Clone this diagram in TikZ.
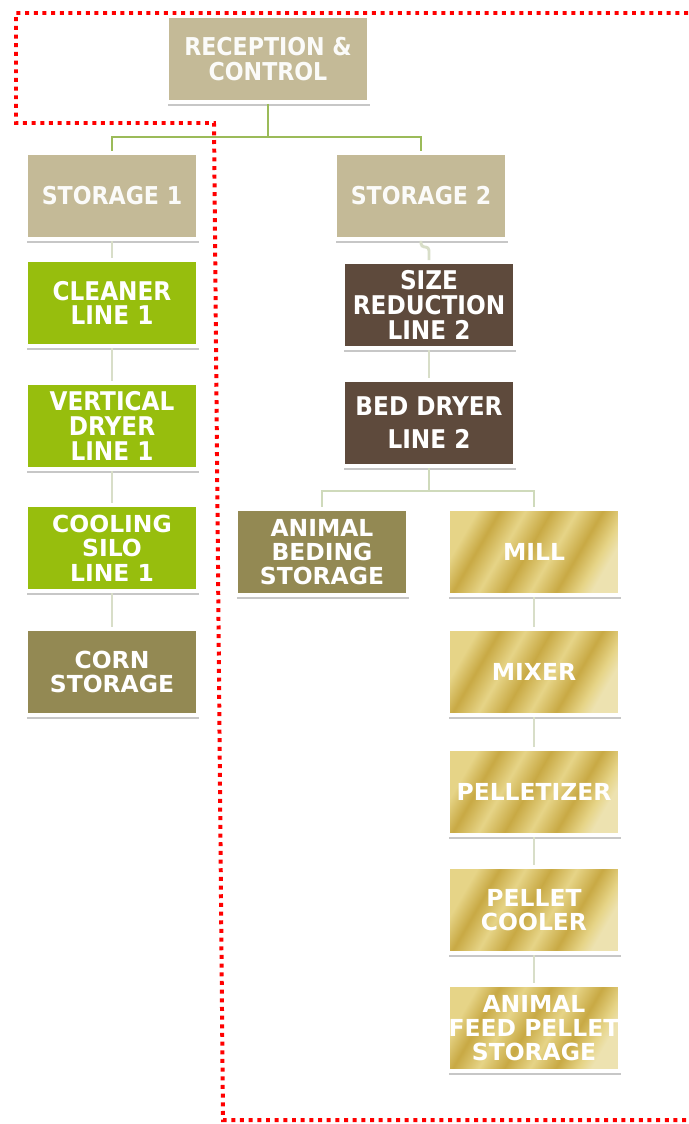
\documentclass[tikz,border=0pt]{standalone}
\usepackage{fontspec}
\setmainfont{DejaVu Sans}
\newfontfamily\condfont{DejaVu Sans Condensed}
\usetikzlibrary{shadows}

\definecolor{tanbox}{HTML}{C4BA97}
\definecolor{leafgreen}{HTML}{97BE0D}
\definecolor{barkbrown}{HTML}{5E4A3C}
\definecolor{olivebox}{HTML}{938953}
\definecolor{trunkgreen}{HTML}{9BBB59}
\definecolor{linkpale}{HTML}{D8DEC8}
\definecolor{branchpale}{HTML}{CFDABB}
\definecolor{fencered}{HTML}{FF0000}
\definecolor{goldL}{HTML}{E6D487}
\definecolor{goldD}{HTML}{C8A944}
\definecolor{goldW}{HTML}{EDE2B0}

\pgfdeclarehorizontalshading{goldsheen}{100bp}{color(0bp)=(goldL); color(25bp)=(goldL);
  color(32bp)=(goldD); color(40bp)=(goldL); color(48bp)=(goldD); color(56bp)=(goldL);
  color(64bp)=(goldD); color(71bp)=(goldL); color(75bp)=(goldW); color(100bp)=(goldW)}

\begin{document}
\begin{tikzpicture}[x=0.03cm, y=-0.03cm,
  stage/.style={draw=white, line width=3.4pt, minimum width=5.16cm, minimum height=2.58cm,
    inner sep=0pt, align=center, text=white,
    drop shadow={shadow xshift=0.5pt, shadow yshift=-3.5pt, opacity=0.22, fill=black}},
  condtext/.style={font=\condfont\bfseries\fontsize{22}{21}\selectfont},
  widetext/.style={font=\bfseries\fontsize{20}{20.8}\selectfont},
  tanstage/.style={stage, fill=tanbox, font=\condfont\bfseries\fontsize{21}{21}\selectfont, text=white!94!tanbox},
  greenstage/.style={stage, fill=leafgreen},
  brownstage/.style={stage, fill=barkbrown, condtext},
  olivestage/.style={stage, fill=olivebox, widetext},
  goldstage/.style={stage, shading=goldsheen, shading angle=-30, widetext},
  trunk/.style={draw=trunkgreen, line width=1.5pt},
  link/.style={draw=linkpale, line width=2.5pt},
  branch/.style={draw=branchpale, line width=1.5pt},
  fence/.style={draw=fencered, line width=3.4pt, dash pattern=on 3.4pt off 4pt}]
\useasboundingbox (0,0) rectangle (688,1124);

% receiving side
\node[tanstage, minimum width=6.06cm] (rec) at (268,59) {RECEPTION \&\\CONTROL};
\node[tanstage] (st1) at (112,196) {STORAGE 1};
\node[tanstage] (st2) at (421,196) {STORAGE 2};

% line 1 (corn)
\node[greenstage, condtext] (cln) at (112,303) {CLEANER\\LINE 1};
\node[greenstage, condtext] (vdr) at (112,426) {VERTICAL\\DRYER\\LINE 1};
\node[greenstage, widetext] (silo) at (112,548) {COOLING\\SILO\\LINE 1};
\node[olivestage] (corn) at (112,672) {CORN\\STORAGE};

% line 2
\node[brownstage] (szr) at (429,305) {SIZE\\REDUCTION\\LINE 2};
\node[brownstage] (bed) at (429,423) {BED DRYER\\[7pt]LINE 2};
\node[olivestage] (beding) at (322,552) {ANIMAL\\BEDING\\STORAGE};
\node[goldstage] (mill) at (534,552) {MILL};
\node[goldstage] (mix) at (534,672) {MIXER};
\node[goldstage] (pel) at (534,792) {PELLETIZER};
\node[goldstage] (cool) at (534,910) {PELLET\\COOLER};
\node[goldstage] (feed) at (534,1028) {ANIMAL\\FEED PELLET\\STORAGE};

% connectors
\draw[trunk] (rec.south) -- ++(0,33) -| (st1.north);
\draw[trunk] (rec.south) ++(0,33) -| (st2.north);
\foreach \a/\b in {st1/cln, cln/vdr, vdr/silo, silo/corn, szr/bed, mill/mix, mix/pel, pel/cool, cool/feed}
  \draw[link] (\a) -- (\b);
\draw[link, rounded corners=3pt] (st2.south) -- ++(0,6) -| (szr.north);
\draw[branch] (bed.south) -- ++(0,23) -| (beding.north);
\draw[branch] (bed.south) ++(0,23) -| (mill.north);

% dotted boundary
\draw[fence] (688,13) -- (16,13) -- (16,123) -- (214,123) -- (223,1120) -- (688,1120);
\end{tikzpicture}
\end{document}
